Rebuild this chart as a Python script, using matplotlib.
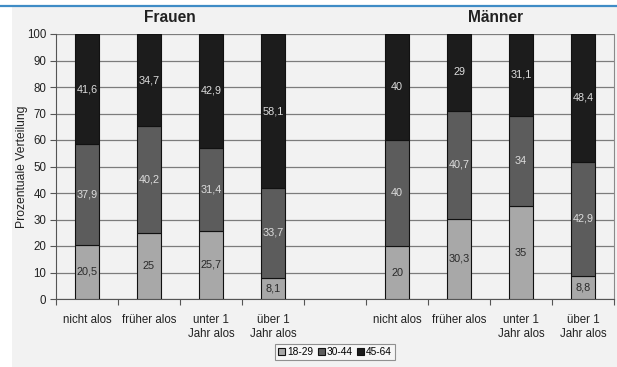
import matplotlib
matplotlib.use('Agg')
import matplotlib.pyplot as plt
from matplotlib.patches import Rectangle
from matplotlib.lines import Line2D

plt.rcParams['font.family'] = ['Liberation Sans', 'DejaVu Sans']

groups = ['nicht alos', 'früher alos', 'unter 1\nJahr alos', 'über 1\nJahr alos']
ages = ['18-29', '30-44', '45-64']

frauen_18_29 = [20.5, 25, 25.7, 8.1]
frauen_30_44 = [37.9, 40.2, 31.4, 33.7]
frauen_45_64 = [41.6, 34.7, 42.9, 58.1]

maenner_18_29 = [20, 30.3, 35, 8.8]
maenner_30_44 = [40, 40.7, 34, 42.9]
maenner_45_64 = [40, 29, 31.1, 48.4]

colors = ['#a8a8a8', '#5c5c5c', '#1c1c1c']
text_colors = ['#2a2a2a', '#dcdcdc', '#dcdcdc']

fig = plt.figure(figsize=(6.17, 3.67), dpi=100)
fig.patch.set_facecolor('white')
# grauer Hintergrund und blaue Linie oben
fig.patches.append(Rectangle((12 / 617, 0), 1, 1 - 7 / 367, transform=fig.transFigure,
                             facecolor='#f2f2f2', edgecolor='none', zorder=-10))
fig.lines.append(Line2D([0, 1], [1 - 5.5 / 367] * 2, transform=fig.transFigure,
                        color='#3f8cc6', linewidth=1.6, zorder=-5))

ax = fig.add_axes([56 / 617, 1 - 299 / 367, (614 - 56) / 617, (299 - 34) / 367])
ax.set_facecolor('#f2f2f2')

x = [0, 1, 2, 3, 5, 6, 7, 8]
series = [frauen_18_29 + maenner_18_29,
          frauen_30_44 + maenner_30_44,
          frauen_45_64 + maenner_45_64]

bottom = [0] * len(x)
for vals, col, tcol, name in zip(series, colors, text_colors, ages):
    ax.bar(x, vals, 0.4, bottom=bottom, color=col, edgecolor='#111111',
           linewidth=0.8, label=name, zorder=3)
    for xi, b, v in zip(x, bottom, vals):
        ax.text(xi, b + v / 2, f'{v:g}'.replace('.', ','), ha='center', va='center',
                fontsize=7.8, color=tcol, zorder=4)
    bottom = [b + v for b, v in zip(bottom, vals)]

ax.set_xlim(-0.5, 8.5)
ax.set_ylim(0, 100)
ax.set_yticks(range(0, 101, 10))
ax.yaxis.grid(True, color='#7c7c7c', linewidth=0.9, zorder=1)
ax.set_axisbelow(True)

ax.set_xticks([i - 0.5 for i in range(10)])
ax.set_xticklabels([])
ax.set_xticks(x, minor=True)
ax.set_xticklabels(groups + groups, minor=True)
ax.tick_params(axis='x', which='minor', length=0, pad=11, labelsize=8.3, labelcolor='#222222')
ax.tick_params(axis='x', which='major', length=4, color='#555555')
ax.tick_params(axis='y', length=4, pad=3, labelsize=8.3, labelcolor='#222222', color='#555555')

ax.spines['top'].set_visible(False)
ax.spines['right'].set_color('#8a8a8a')
ax.spines['left'].set_color('#555555')
ax.spines['bottom'].set_color('#555555')

ax.set_ylabel('Prozentuale Verteilung', fontsize=8.7, color='#222222')
ax.yaxis.set_label_coords(-0.05, 0.5)

fig.text(170 / 617, 1 - 17 / 367, 'Frauen', ha='center', va='center',
         fontsize=11.2, fontweight='bold', color='#222222')
fig.text(496 / 617, 1 - 17 / 367, 'Männer', ha='center', va='center',
         fontsize=11.2, fontweight='bold', color='#222222')

leg = fig.legend(loc='center', bbox_to_anchor=(335 / 617, 1 - 352 / 367), ncol=3,
                 fontsize=7.3, frameon=True, fancybox=False, handlelength=0.7,
                 handleheight=0.7, handletextpad=0.2, columnspacing=0.4,
                 borderpad=0.3, borderaxespad=0)
leg.get_frame().set_edgecolor('#777777')
leg.get_frame().set_facecolor('#f8f8f8')
leg.get_frame().set_linewidth(0.8)

fig.savefig('out.png', dpi=100)
